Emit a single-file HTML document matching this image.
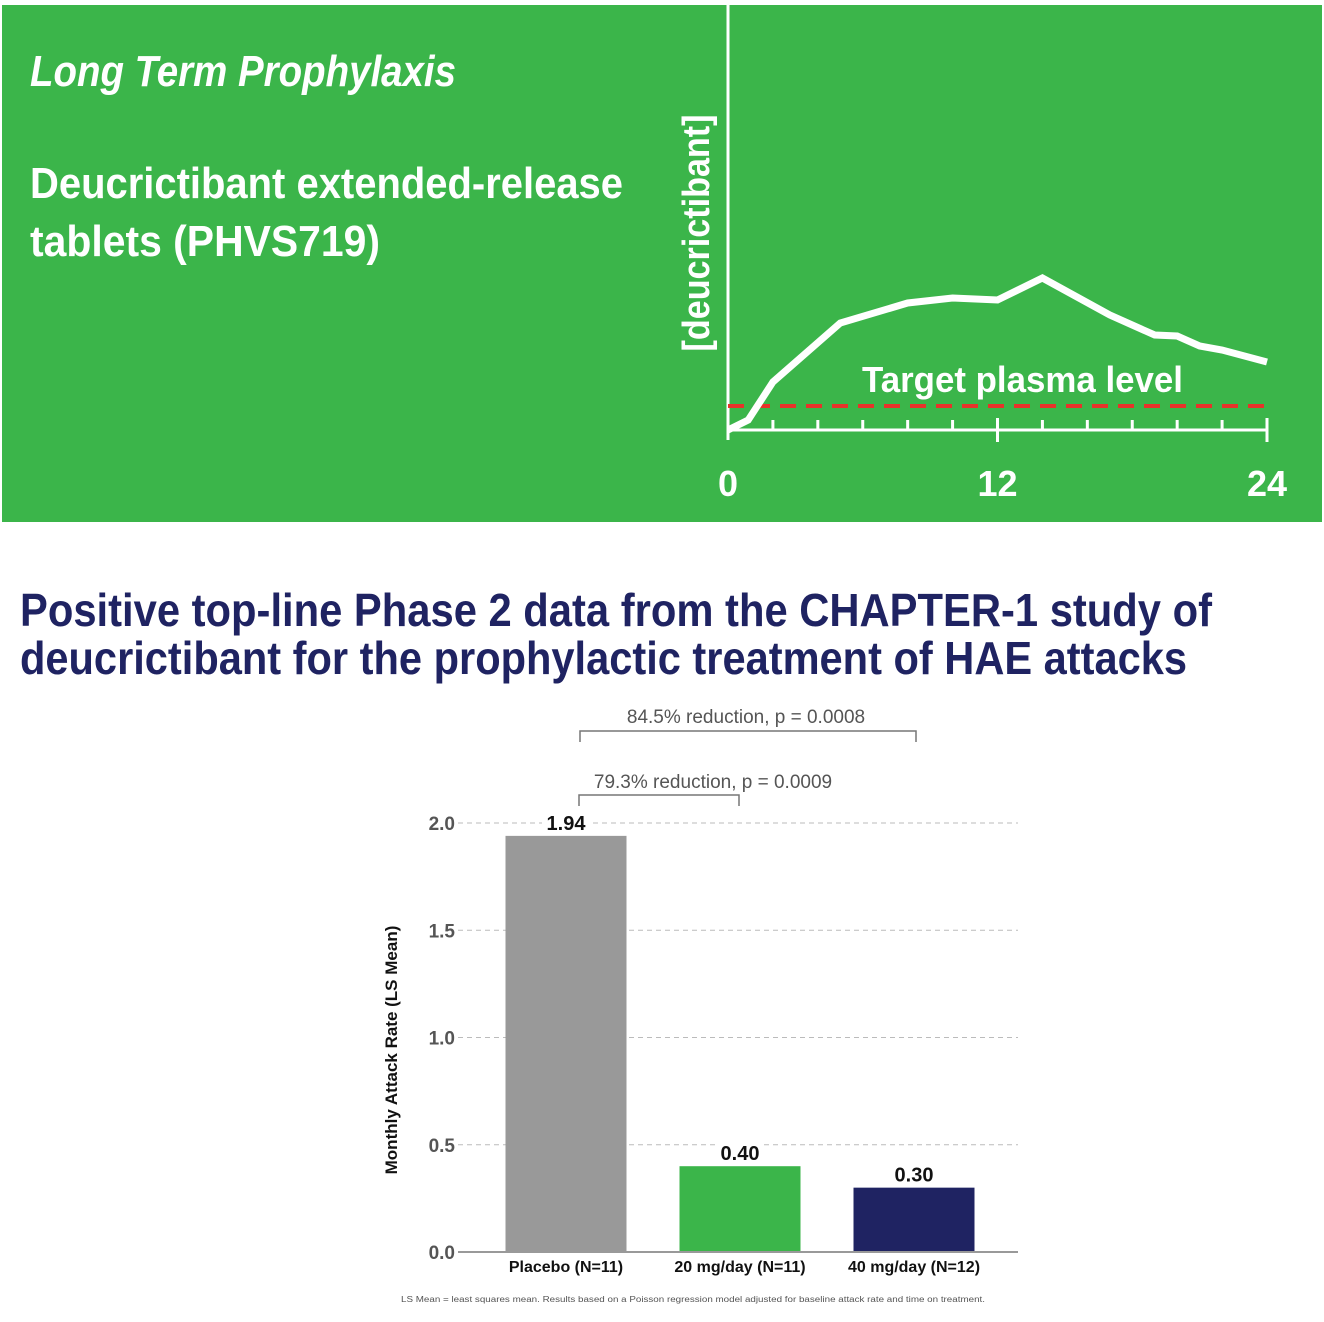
<!DOCTYPE html>
<html><head><meta charset="utf-8"><style>
html,body{margin:0;padding:0;background:#fff;width:1324px;height:1322px;overflow:hidden}
svg{display:block;font-family:"Liberation Sans",sans-serif}
</style></head><body>
<svg id="root" width="1324" height="1322" viewBox="0 0 1324 1322">
<rect x="2" y="5" width="1320" height="517" fill="#3bb54a"/>
<text x="30" y="86" font-size="44" font-weight="bold" font-style="italic" fill="#fff" textLength="426" lengthAdjust="spacingAndGlyphs">Long Term Prophylaxis</text>
<text x="30" y="198" font-size="44" font-weight="bold" fill="#fff" textLength="593" lengthAdjust="spacingAndGlyphs">Deucrictibant extended-release</text>
<text x="30" y="256" font-size="44" font-weight="bold" fill="#fff" textLength="350" lengthAdjust="spacingAndGlyphs">tablets (PHVS719)</text>
<g id="pk"></g>
<text x="20" y="626" font-size="46" font-weight="bold" fill="#1f2362" textLength="1192" lengthAdjust="spacingAndGlyphs">Positive top-line Phase 2 data from the CHAPTER-1 study of</text>
<text x="20" y="674" font-size="46" font-weight="bold" fill="#1f2362" textLength="1167" lengthAdjust="spacingAndGlyphs">deucrictibant for the prophylactic treatment of HAE attacks</text>
<g id="bar"></g>
<text x="693" y="1302" font-size="8" fill="#555" text-anchor="middle" textLength="584" lengthAdjust="spacingAndGlyphs">LS Mean = least squares mean. Results based on a Poisson regression model adjusted for baseline attack rate and time on treatment.</text>
</svg>
<script>
// PK curve data
const pkHours=[0,0.9,2,5,8,10,12,14,17,19,20,21,22,24];
const pkConc=[0,10,48,107,127,132,130,152,115,95,94,84,80,68];
const pkTarget=24;
const pkTicks=["0","12","24"];
// Bar chart data
const barCats=["Placebo (N=11)","20 mg/day (N=11)","40 mg/day (N=12)"];
const barVals=[1.94,0.40,0.30];
const barLabels=["1.94","0.40","0.30"];
const yTicks=[0,0.5,1.0,1.5,2.0];
const yTickLabels=["0.0","0.5","1.0","1.5","2.0"];
const colors=["#999999","#3bb54a","#1f2362"];

const NS="http://www.w3.org/2000/svg";
function mk(p,t,a,txt){const e=document.createElementNS(NS,t);for(const k in a)e.setAttribute(k,a[k]);if(txt!=null)e.textContent=txt;p.appendChild(e);return e;}

// PK chart
const pk=document.getElementById('pk');
const px=h=>728+h*(1267-728)/24, py=c=>430-c;
let e=mk(pk,'line',{x1:728,y1:5,x2:728,y2:440,stroke:'#fff','stroke-width':3});

e=mk(pk,'line',{x1:728,y1:430,x2:1267,y2:430,stroke:'#fff','stroke-width':3});

for(let h=2;h<=24;h+=2){const big=(h%12===0);
 e=mk(pk,'line',{x1:px(h),y1:big?418:420,x2:px(h),y2:big?442:430,stroke:'#fff','stroke-width':3});
 }
pkTicks.forEach(t=>{e=mk(pk,'text',{x:px(+t),y:496,'font-size':36,'font-weight':'bold',fill:'#fff','text-anchor':'middle'},t);
 });
e=mk(pk,'line',{x1:728,y1:py(pkTarget),x2:1267,y2:py(pkTarget),stroke:'#e8322a','stroke-width':4,'stroke-dasharray':'16 10'});

e=mk(pk,'polyline',{points:pkHours.map((h,i)=>px(h)+','+py(pkConc[i])).join(' '),fill:'none',stroke:'#fff','stroke-width':7,'stroke-linejoin':'miter'});

e=mk(pk,'text',{x:862,y:392,'font-size':36,'font-weight':'bold',fill:'#fff',textLength:321,lengthAdjust:'spacingAndGlyphs'},'Target plasma level');

e=mk(pk,'text',{x:0,y:0,'font-size':38,'font-weight':'bold',fill:'#fff','text-anchor':'middle',transform:'translate(709,233) rotate(-90)',textLength:237,lengthAdjust:'spacingAndGlyphs'},'[deucrictibant]');


// Bar chart
const bg=document.getElementById('bar');
const y0=1252,ys=(1252-823)/2, Y=v=>y0-v*ys;
const X=i=>566+i*174, bw=121;
yTicks.forEach((t,i)=>{
 if(t>0){e=mk(bg,'line',{x1:458,y1:Y(t),x2:1018,y2:Y(t),stroke:'#bbb','stroke-width':1,'stroke-dasharray':'5 4'});
 }
 e=mk(bg,'text',{x:455,y:Y(t)+7,'font-size':19,'font-weight':'bold',fill:'#555','text-anchor':'end'},yTickLabels[i]);
 
});
barVals.forEach((v,i)=>{
 e=mk(bg,'rect',{x:X(i)-bw/2,y:Y(v),width:bw,height:y0-Y(v),fill:colors[i]});
 
 e=mk(bg,'rect',{x:X(i)-24,y:Y(v)-26,width:48,height:24,fill:'#fff'});
 
 e=mk(bg,'text',{x:X(i),y:Y(v)-6,'font-size':20,'font-weight':'bold',fill:'#111','text-anchor':'middle'},barLabels[i]);
 
 e=mk(bg,'text',{x:X(i),y:1272,'font-size':16,'font-weight':'bold',fill:'#111','text-anchor':'middle'},barCats[i]);
 
});
e=mk(bg,'line',{x1:458,y1:y0,x2:1018,y2:y0,stroke:'#999','stroke-width':2});

e=mk(bg,'text',{x:0,y:0,'font-size':17,'font-weight':'bold',fill:'#111','text-anchor':'middle',transform:'translate(397,1050) rotate(-90)'},'Monthly Attack Rate (LS Mean)');

function bracket(x1,x2,y,ty,txt,tx,name){
 e=mk(bg,'path',{d:`M${x1},${y+11}V${y}H${x2}V${y+11}`,fill:'none',stroke:'#777','stroke-width':1.5});
 
 e=mk(bg,'text',{x:tx,y:ty,'font-size':19,fill:'#555','text-anchor':'middle'},txt);
 
}
bracket(580,916,731,723,'84.5% reduction, p = 0.0008',746,'comparison-40mg');
bracket(579,739,795,788,'79.3% reduction, p = 0.0009',713,'comparison-20mg');
</script>
</body></html>
